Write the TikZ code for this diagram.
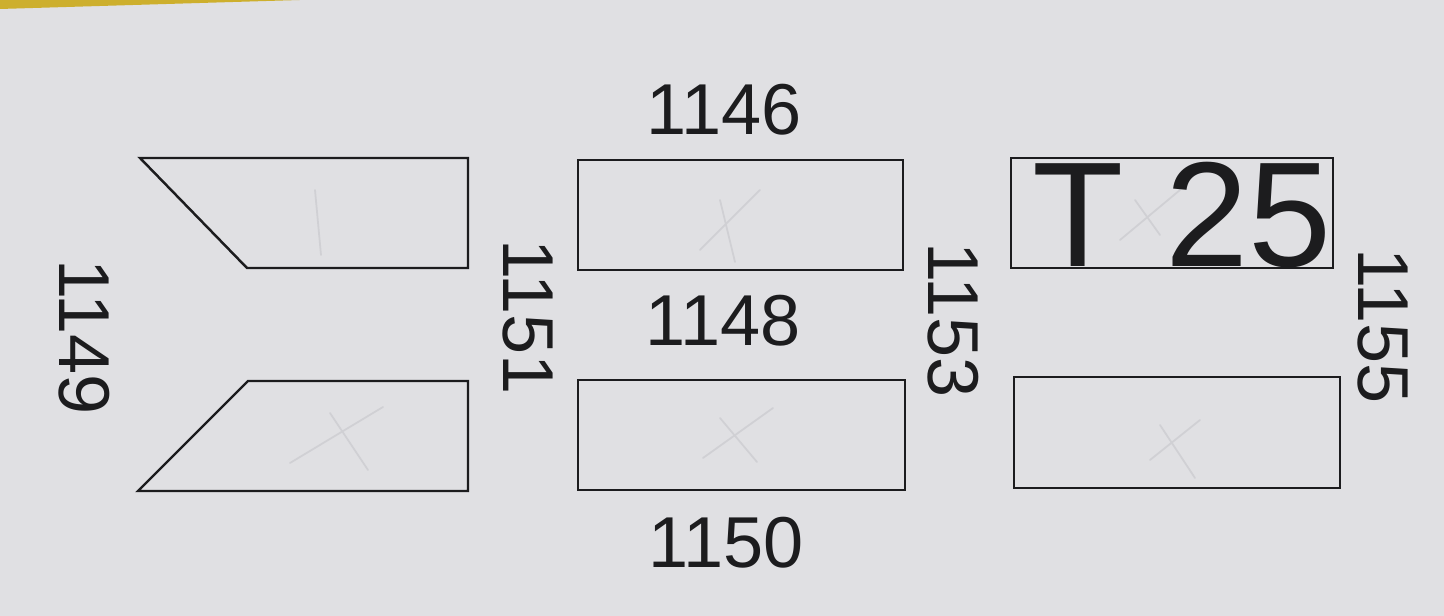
\documentclass[tikz,border=0pt]{standalone}
\usepackage{fontspec}
\setmainfont{Liberation Sans}
\definecolor{paper}{RGB}{224,224,227}
\definecolor{ink}{RGB}{28,28,30}
\definecolor{faint}{RGB}{208,208,212}
\definecolor{tape}{RGB}{205,175,45}
\tikzset{
  outline/.style={draw=ink, line width=0.7pt, line join=miter},
  boxnode/.style={outline, rectangle, inner sep=0pt, anchor=north west},
  num/.style={text=ink, font=\fontsize{20.5}{24}\selectfont, inner sep=0pt, anchor=base},
  vnum/.style={num, rotate=-90},
  bigtext/.style={text=ink, font=\fontsize{42.5}{48}\selectfont, inner sep=0pt, anchor=base west},
  scratch/.style={draw=faint, line width=0.5pt, line cap=round}
}
\begin{document}
\begin{tikzpicture}[x=0.01cm, y=-0.01cm]
\useasboundingbox (0,0) rectangle (1444,616);
\fill[paper] (0,0) rectangle (1444,616);
\fill[tape] (0,0) -- (300,0) -- (0,9) -- cycle;

% faint scratch marks
\draw[scratch] (315,190) -- (321,255);
\draw[scratch] (700,250) -- (760,190) (720,200) -- (735,262);
\draw[scratch] (1120,240) -- (1180,190) (1135,200) -- (1160,235);
\draw[scratch] (290,463) -- (383,407) (330,413) -- (368,470);
\draw[scratch] (703,458) -- (773,408) (720,418) -- (757,462);
\draw[scratch] (1150,460) -- (1200,420) (1160,425) -- (1195,478);

% top row
\draw[outline] (140,158) -- (468,158) -- (468,268) -- (247,268) -- cycle;
\node[boxnode, minimum width=325*0.01cm, minimum height=110*0.01cm] (tm) at (577,159) {};
\node[boxnode, minimum width=322*0.01cm, minimum height=110*0.01cm] (tr) at (1010,157) {};
\node[bigtext] (t25) at (1032,267) {T 25};

% bottom row
\draw[outline] (248,381) -- (468,381) -- (468,491) -- (138,491) -- cycle;
\node[boxnode, minimum width=327*0.01cm, minimum height=110*0.01cm] (bm) at (577,379) {};
\node[boxnode, minimum width=326*0.01cm, minimum height=111*0.01cm] (br) at (1013,376) {};

% labels
\node[num] (l1146) at (724,135) {1146};
\node[num] (l1148) at (723,346) {1148};
\node[num] (l1150) at (726,568) {1150};
\node[vnum] (l1149) at (60,337) {1149};
\node[vnum] (l1151) at (503,317) {1151};
\node[vnum] (l1153) at (928,320) {1153};
\node[vnum] (l1155) at (1358,326) {1155};
\end{tikzpicture}
\end{document}
